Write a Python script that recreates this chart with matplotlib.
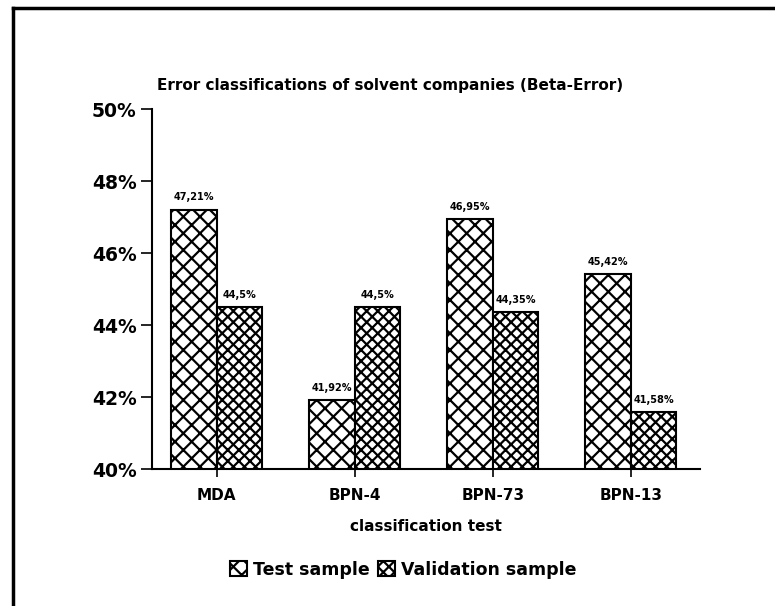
import numpy as np
import matplotlib
matplotlib.use("Agg")
import matplotlib.pyplot as plt
from matplotlib.lines import Line2D

plt.rcParams['font.family'] = ['DejaVu Sans']
plt.rcParams['font.weight'] = 'bold'
plt.rcParams['hatch.linewidth'] = 1.6

categories = ["MDA", "BPN-4", "BPN-73", "BPN-13"]
test_sample = [47.21, 41.92, 46.95, 45.42]
validation_sample = [44.5, 44.5, 44.35, 41.58]
test_labels = ["47,21%", "41,92%", "46,95%", "45,42%"]
validation_labels = ["44,5%", "44,5%", "44,35%", "41,58%"]
yticks = [40, 42, 44, 46, 48, 50]

fig = plt.figure(figsize=(7.75, 6.06), dpi=100)
ax = fig.add_axes([0.196, 0.226, 0.707, 0.594])

x = np.arange(len(categories))
w = 0.33
b1 = ax.bar(x - w/2, test_sample, w, color='white', edgecolor='black',
            hatch='xx', linewidth=1.5, label='Test sample')
b2 = ax.bar(x + w/2, validation_sample, w, color='white', edgecolor='black',
            hatch='xxx', linewidth=1.5, label='Validation sample')

for xi, v, t in zip(x - w/2, test_sample, test_labels):
    ax.text(xi, v + 0.2, t, ha='center', va='bottom', fontsize=7, fontweight='bold')
for xi, v, t in zip(x + w/2, validation_sample, validation_labels):
    ax.text(xi, v + 0.2, t, ha='center', va='bottom', fontsize=7, fontweight='bold')

ax.set_ylim(40, 50)
ax.set_xlim(-0.47, 3.5)
ax.set_yticks(yticks)
ax.set_yticklabels(["%d%%" % t for t in yticks], fontsize=13.5, fontweight='bold')
ax.set_xticks(x)
ax.set_xticklabels(categories, fontsize=11, fontweight='bold')
ax.tick_params(axis='y', length=8, width=1.2, pad=3)
ax.tick_params(axis='x', length=6, width=1.2, pad=8)
ax.spines['top'].set_visible(False)
ax.spines['right'].set_visible(False)
ax.spines['left'].set_linewidth(1.5)
ax.spines['bottom'].set_linewidth(1.5)

ax.set_title("Error classifications of solvent companies (Beta-Error)",
             fontsize=11, fontweight='bold', pad=14, x=0.434)
ax.set_xlabel("classification test", fontsize=11, fontweight='bold', labelpad=11)

leg = fig.legend(handles=[b1, b2], loc='center', bbox_to_anchor=(0.52, 0.06),
                 ncol=2, frameon=False, fontsize=12.5, handlelength=1.0,
                 handleheight=1.0, handletextpad=0.3, columnspacing=0.5)

# page frame (scanned border)
fig.add_artist(Line2D([0.017, 1.0], [0.987, 0.987], color='black', lw=2.5))
fig.add_artist(Line2D([0.017, 0.017], [0.0, 0.987], color='black', lw=2.5))

fig.savefig("out.png", dpi=100)
